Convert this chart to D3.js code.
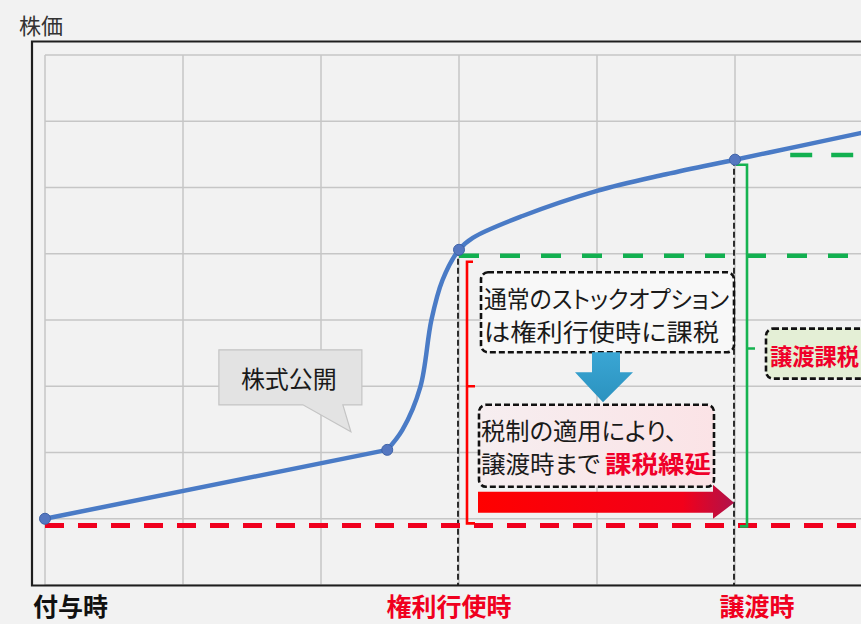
<!DOCTYPE html>
<html>
<head>
<meta charset="utf-8">
<script src="https://cdn.jsdelivr.net/npm/d3@7"></script>
<style>
  html, body { margin: 0; padding: 0; background: #f2f2f2; }
  svg { display: block; font-family: "Noto Sans CJK JP", "Noto Sans", sans-serif; font-feature-settings: "palt"; }
</style>
</head>
<body>
<div id="chart"></div>
<script>
// 時点（x）と株価（y）
var eventLabels = ["付与時", "権利行使時", "譲渡時"];
var eventX = [0, 3, 5];
var priceX = [0, 2.48, 2.59, 2.72, 2.80, 2.88, 3.0, 3.1, 3.46, 4.0, 4.5, 5.0, 5.5, 6.0];
var priceY = [1.0, 2.04, 2.34, 2.99, 4.0, 4.6, 5.06, 5.24, 5.57, 5.95, 6.2, 6.42, 6.64, 6.86];
var markerIdx = [0, 1, 6, 11];
var grantPrice = 0.9;       // 赤点線
var exerciseLevel = 4.97;   // 緑点線（権利行使時）
var transferLevel = 6.49;   // 緑点線（譲渡時）
var xGrid = d3.range(0, 7);
var yGrid = d3.range(0, 9);

var W = 861, H = 624;
var svg = d3.select("#chart").append("svg").attr("width", W).attr("height", H)

var x = d3.scaleLinear().domain([0, 6]).range([45, 873])
var y = d3.scaleLinear().domain([0, 8]).range([585, 55])

var defs = svg.append("defs")
var rg = defs.append("linearGradient").attr("id", "redArrow").attr("x1", 0).attr("x2", 1).attr("y1", 0).attr("y2", 0)
rg.append("stop").attr("offset", "0%").attr("stop-color", "#ff0000")
rg.append("stop").attr("offset", "80%").attr("stop-color", "#f2001a")
rg.append("stop").attr("offset", "100%").attr("stop-color", "#b0124a")
var bg = defs.append("linearGradient").attr("id", "blueArrow").attr("x1", 0).attr("x2", 0).attr("y1", 0).attr("y2", 1)
bg.append("stop").attr("offset", "0%").attr("stop-color", "#3aa6d4")
bg.append("stop").attr("offset", "100%").attr("stop-color", "#2b92bf")
var pg = defs.append("linearGradient").attr("id", "pinkFill").attr("x1", 0).attr("x2", 1).attr("y1", 0).attr("y2", 0)
pg.append("stop").attr("offset", "0%").attr("stop-color", "#f6eef0")
pg.append("stop").attr("offset", "100%").attr("stop-color", "#fbe3e6")

// grid
var grid = svg.append("g")
grid.selectAll("line.gx").data(xGrid).enter().append("line").attr("class", "gx")
  .attr("x1", function(d) {return x(d)}).attr("x2", function(d) {return x(d)})
  .attr("y1", y(8)).attr("y2", y(0))
  .attr("stroke", "#c6c6c6").attr("stroke-width", 1.5)
grid.selectAll("line.gy").data(yGrid).enter().append("line").attr("class", "gy")
  .attr("x1", x(0)).attr("x2", W)
  .attr("y1", function(d) {return y(d)}).attr("y2", function(d) {return y(d)})
  .attr("stroke", "#c6c6c6").attr("stroke-width", 1.5)

// frame
svg.append("path").attr("d", "M" + W + ",41.5H32V585.5H" + W)
  .attr("fill", "none").attr("stroke", "#1e1e1e").attr("stroke-width", 2.2)

// title
svg.append("text").attr("x", 19).attr("y", 24).attr("dominant-baseline", "central")
  .attr("font-size", 22).attr("fill", "#333").text("株価")

// black dashed verticals at exercise / transfer
svg.selectAll("line.ev").data([1, 2]).enter().append("line").attr("class", "ev")
  .attr("x1", function(i) {return x(eventX[i]) - 1}).attr("x2", function(i) {return x(eventX[i]) - 1})
  .attr("y1", function(i) {return y(priceY[markerIdx[i + 1]])}).attr("y2", y(0))
  .attr("stroke", "#1a1a1a").attr("stroke-width", 1.8).attr("stroke-dasharray", "6,3")

// red dashed (grant price)
svg.append("line").attr("x1", x(0)).attr("x2", W).attr("y1", y(grantPrice)).attr("y2", y(grantPrice))
  .attr("stroke", "#f0001e").attr("stroke-width", 5).attr("stroke-dasharray", "19,14")

// green dashed levels
svg.append("line").attr("x1", x(3)).attr("x2", W).attr("y1", y(exerciseLevel)).attr("y2", y(exerciseLevel))
  .attr("stroke", "#12b050").attr("stroke-width", 4.5).attr("stroke-dasharray", "20,21")
svg.append("line").attr("x1", x(5.4)).attr("x2", W).attr("y1", y(transferLevel)).attr("y2", y(transferLevel))
  .attr("stroke", "#12b050").attr("stroke-width", 4.5).attr("stroke-dasharray", "22,19")

// red bracket (exercise → transfer period, taxable gain)
var rx = x(3) + 8
svg.append("path")
  .attr("d", "M" + (rx + 6) + "," + (y(exerciseLevel) + 6) + "H" + rx + "V" + (y(grantPrice) - 2) + "H" + (rx + 8)
    + "M" + rx + "," + y(3) + "H" + (rx + 8))
  .attr("fill", "none").attr("stroke", "#ff0000").attr("stroke-width", 2.6)

// green bracket
var gx = x(5) + 12
svg.append("path")
  .attr("d", "M" + (x(5) + 1) + "," + (y(priceY[11]) + 5) + "H" + gx + "V" + (y(grantPrice) + 1) + "H" + (gx - 7)
    + "M" + gx + "," + y(3.57) + "H" + (gx + 8))
  .attr("fill", "none").attr("stroke", "#16b350").attr("stroke-width", 2.6)

// price curve: straight until IPO, smooth afterwards
var pts = priceX.map(function(d, i) {return [d, priceY[i]]})
var straight = d3.line().x(function(d) {return x(d[0])}).y(function(d) {return y(d[1])})
var smooth = d3.line().x(function(d) {return x(d[0])}).y(function(d) {return y(d[1])}).curve(d3.curveCatmullRom.alpha(0.5))
svg.append("path").datum(pts.slice(0, 2)).attr("d", straight)
  .attr("fill", "none").attr("stroke", "#4a7bc6").attr("stroke-width", 4.5).attr("stroke-linecap", "round")
svg.append("path").datum(pts.slice(1)).attr("d", smooth)
  .attr("fill", "none").attr("stroke", "#4a7bc6").attr("stroke-width", 4.5).attr("stroke-linecap", "round")
svg.selectAll("circle.mk").data(markerIdx).enter().append("circle").attr("class", "mk")
  .attr("cx", function(i) {return x(priceX[i])}).attr("cy", function(i) {return y(priceY[i])})
  .attr("r", 5.5).attr("fill", "#5577c0").attr("stroke", "#3f63a8").attr("stroke-width", 1)

// callout 株式公開
var cx0 = x(1.26), cy0 = y(3.55)
svg.append("path")
  .attr("d", "M" + cx0 + "," + cy0 + "H" + (cx0 + 143) + "V" + (cy0 + 55) + "H" + (cx0 + 124)
    + "L" + (cx0 + 132) + "," + (cy0 + 82) + "L" + (cx0 + 84) + "," + (cy0 + 55) + "H" + cx0 + "Z")
  .attr("fill", "#e3e3e3").attr("stroke", "#c4c4c4").attr("stroke-width", 1.2)
svg.append("text").attr("x", cx0 + 70).attr("y", cy0 + 28).attr("text-anchor", "middle")
  .attr("dominant-baseline", "central").attr("font-size", 24).attr("fill", "#1a1a1a").text("株式公開")

// box helper
function box(x0, y0, w, h, fill) {
  svg.append("rect").attr("x", x0).attr("y", y0).attr("width", w).attr("height", h).attr("rx", 7)
    .attr("fill", fill).attr("stroke", "#111").attr("stroke-width", 2.6).attr("stroke-dasharray", "6,3")
}

// box 1
var b1x = x(3) + 22, b1y = y(4.72)
box(b1x, b1y, 253, 80, "#f8f8f8")
svg.append("text").attr("x", b1x + 3).attr("y", b1y + 25).attr("dominant-baseline", "central")
  .attr("font-size", 24).attr("fill", "#1a1a1a").attr("textLength", 245).attr("lengthAdjust", "spacingAndGlyphs")
  .text("通常のストックオプション")
svg.append("text").attr("x", b1x + 3).attr("y", b1y + 58).attr("dominant-baseline", "central")
  .attr("font-size", 24).attr("fill", "#1a1a1a").attr("textLength", 235).attr("lengthAdjust", "spacingAndGlyphs")
  .text("は権利行使時に課税")

// blue down arrow
var ax = x(3) + 144, ay = b1y + 80
svg.append("path")
  .attr("d", "M" + (ax - 11) + "," + ay + "H" + (ax + 17) + "V" + (ay + 20) + "H" + (ax + 30)
    + "L" + ax + "," + (ay + 50) + "L" + (ax - 28) + "," + (ay + 20) + "H" + (ax - 11) + "Z")
  .attr("fill", "url(#blueArrow)")

// box 2
var b2x = x(3) + 20, b2y = y(2.72)
box(b2x, b2y, 235, 82, "url(#pinkFill)")
svg.append("text").attr("x", b2x + 2).attr("y", b2y + 25).attr("dominant-baseline", "central")
  .attr("font-size", 24).attr("fill", "#1a1a1a").attr("textLength", 196).attr("lengthAdjust", "spacingAndGlyphs")
  .text("税制の適用により、")
svg.append("text").attr("x", b2x + 2).attr("y", b2y + 58).attr("dominant-baseline", "central")
  .attr("font-size", 24).attr("fill", "#1a1a1a").attr("textLength", 119).attr("lengthAdjust", "spacingAndGlyphs")
  .text("譲渡時まで")
svg.append("text").attr("x", b2x + 126).attr("y", b2y + 58).attr("dominant-baseline", "central")
  .attr("font-size", 24).attr("font-weight", "bold").attr("fill", "#f0002a").attr("textLength", 106).attr("lengthAdjust", "spacingAndGlyphs")
  .text("課税繰延")

// red right arrow (deferral period)
var rax0 = x(3) + 19, rax1 = x(5) - 1, ray = y(1.24)
svg.append("path")
  .attr("d", "M" + rax0 + "," + (ray - 11) + "H" + (rax1 - 21) + "V" + (ray - 18) + "L" + rax1 + "," + ray
    + "L" + (rax1 - 21) + "," + (ray + 16) + "V" + (ray + 10) + "H" + rax0 + "Z")
  .attr("fill", "url(#redArrow)")

// box 3 譲渡課税
var b3x = x(5) + 31, b3y = y(3.87)
box(b3x, b3y, 110, 50, "#e4efd6")
svg.append("text").attr("x", b3x + 4).attr("y", b3y + 26).attr("dominant-baseline", "central")
  .attr("font-size", 23).attr("font-weight", "bold").attr("fill", "#f0002a").attr("textLength", 89).attr("lengthAdjust", "spacingAndGlyphs")
  .text("譲渡課税")

// bottom labels
var labelX = [33, 449, 757]
var labelAnchor = ["start", "middle", "middle"]
var labelColor = ["#111", "#f0001e", "#f0001e"]
svg.selectAll("text.ev").data(eventLabels).enter().append("text").attr("class", "ev")
  .attr("x", function(d, i) {return labelX[i]}).attr("y", 605)
  .attr("text-anchor", function(d, i) {return labelAnchor[i]})
  .attr("dominant-baseline", "central").attr("font-size", 25).attr("font-weight", "bold")
  .attr("fill", function(d, i) {return labelColor[i]})
  .text(function(d) {return d})
</script>
</body>
</html>
